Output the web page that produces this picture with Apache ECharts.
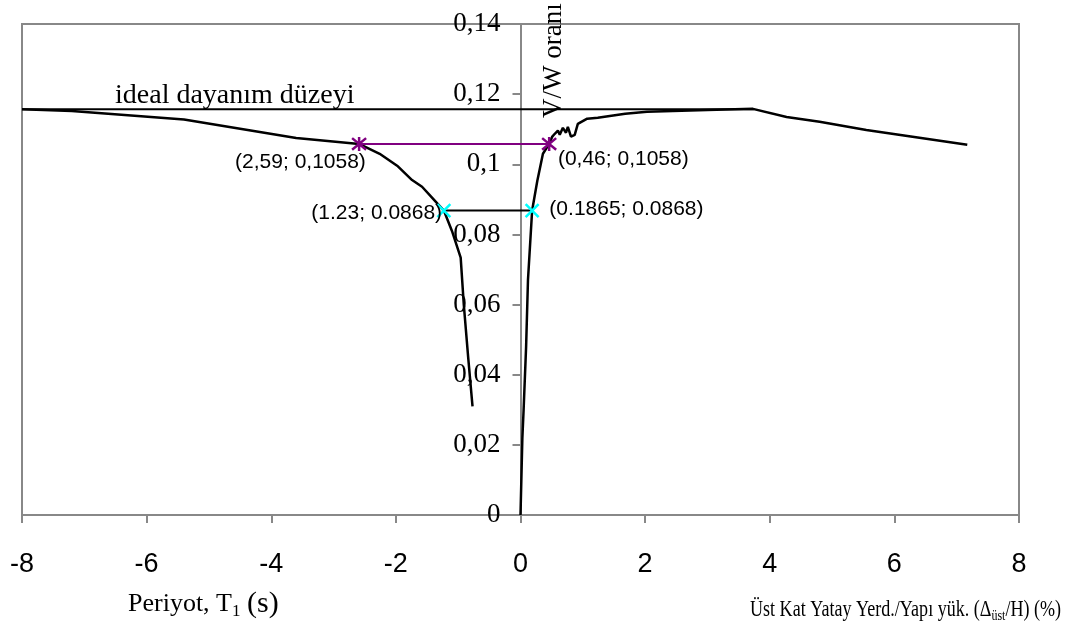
<!DOCTYPE html>
<html>
<head>
<meta charset="utf-8">
<script src="https://cdn.jsdelivr.net/npm/echarts@6/dist/echarts.min.js"></script>
<style>
  html, body { margin: 0; padding: 0; background: #fff; }
  #chart { width: 1066px; height: 638px; }
</style>
</head>
<body>
<div id="chart"></div>
<script>
// sol taraf: periyot egrisi (x negatif)
const periodX = [-8, -7.2, -5.4, -3.6, -2.59, -2.26, -1.98, -1.74, -1.58, -1.42, -1.23, -1.1, -0.96, -0.91, -0.84, -0.77];
const periodY = [0.1157, 0.1152, 0.1128, 0.1075, 0.1058, 0.1030, 0.0996, 0.0955, 0.0936, 0.0905, 0.0868, 0.0810, 0.0734, 0.0600, 0.0450, 0.0310];
// sag taraf: ust kat yatay yerdegistirme egrisi
const driftX = [0, 0.03, 0.05, 0.09, 0.12, 0.1865, 0.27, 0.36, 0.46, 0.51, 0.55, 0.60, 0.63, 0.68, 0.73, 0.76, 0.81, 0.87, 0.92, 1.07, 1.24, 1.68, 2.03, 3.0, 3.73, 4.27, 4.8, 5.55, 7.17];
const driftY = [0, 0.022, 0.030, 0.048, 0.067, 0.0868, 0.0953, 0.1030, 0.1058, 0.1079, 0.1087, 0.1096, 0.1084, 0.1104, 0.1090, 0.1107, 0.1079, 0.1084, 0.1115, 0.1130, 0.1133, 0.1144, 0.1150, 0.1155, 0.1158, 0.1135, 0.1121, 0.1098, 0.1056];
// ideal dayanim duzeyi
const idealX = [-8, 3.75];
const idealY = [0.1157, 0.1157];
// isaretli noktalar
const purpleX = [-2.59, 0.46];
const purpleY = [0.1058, 0.1058];
const purpleLabels = ['(2,59; 0,1058)', '(0,46; 0,1058)'];
const cyanX = [-1.23, 0.1865];
const cyanY = [0.0868, 0.0868];
const cyanLabels = ['(1.23; 0.0868)', '(0.1865; 0.0868)'];
// eksen etiketleri
const xTickLabels = ['-8', '-6', '-4', '-2', '0', '2', '4', '6', '8'];
const yTickLabels = ['0', '0,02', '0,04', '0,06', '0,08', '0,1', '0,12', '0,14'];

const pairs = (xs, ys) => xs.map((x, i) => [x, ys[i]]);
const star = 'path://M0,0L10,10M10,0L0,10M5,-1L5,11';
const cross = 'path://M0,0L10,10M10,0L0,10';
const annFont = { fontFamily: 'Liberation Sans', fontSize: 21, color: '#000' };

const gridLeft = 22, gridRight = 47;
// y ekseni x=0 noktasinda (grafigin ortasi)
const yAxisOffset = -(1066 - gridLeft - gridRight) / 2;

let myChart = echarts.init(document.getElementById('chart'));
let option = {
  animation: false,
  grid: {
    left: gridLeft, right: gridRight, top: 24, bottom: 123,
    containLabel: false, outerBoundsMode: 'none',
    show: true, borderColor: '#888', borderWidth: 2,
  },
  xAxis: {
    type: 'value',
    min: -8, max: 8, interval: 2,
    axisLine: { lineStyle: { color: '#888', width: 2 } },
    axisTick: { length: 8, lineStyle: { color: '#888', width: 2 } },
    splitLine: { show: false },
    axisLabel: {
      margin: 36,
      fontFamily: 'Liberation Sans', fontSize: 27, color: '#000',
      formatter: v => xTickLabels[Math.round((v + 8) / 2)],
    },
  },
  yAxis: {
    type: 'value',
    min: 0, max: 0.14, interval: 0.02,
    offset: yAxisOffset,
    axisLine: { onZero: false, lineStyle: { color: '#888', width: 2 } },
    axisTick: { length: 8, lineStyle: { color: '#888', width: 2 } },
    splitLine: { show: false },
    axisLabel: {
      margin: 20,
      fontFamily: 'Liberation Serif', fontSize: 27, color: '#000',
      formatter: v => yTickLabels[Math.round(v / 0.02)],
    },
  },
  series: [
    {
      name: 'ideal', type: 'line', data: pairs(idealX, idealY),
      symbol: 'none', lineStyle: { color: '#000', width: 2 },
    },
    {
      name: 'periyot', type: 'line', data: pairs(periodX, periodY),
      symbol: 'none', lineStyle: { color: '#000', width: 2.5 },
    },
    {
      name: 'yerdegistirme', type: 'line', data: pairs(driftX, driftY),
      symbol: 'none', lineStyle: { color: '#000', width: 2.5 },
    },
    {
      name: 'mor', type: 'line', z: 5,
      data: purpleX.map((x, i) => ({
        value: [x, purpleY[i]],
        label: i === 0
          ? { position: [15, 27], align: 'right', verticalAlign: 'middle' }
          : { position: [17, 24], align: 'left', verticalAlign: 'middle' },
      })),
      symbol: star, symbolSize: 14,
      lineStyle: { color: '#800080', width: 2 },
      itemStyle: { color: 'rgba(0,0,0,0)', borderColor: '#800080', borderWidth: 2.5 },
      label: { show: true, ...annFont, formatter: p => purpleLabels[p.dataIndex] },
    },
    {
      name: 'camgobegi', type: 'line', z: 5,
      data: cyanX.map((x, i) => ({
        value: [x, cyanY[i]],
        label: i === 0
          ? { position: [6, 10], align: 'right', verticalAlign: 'middle' }
          : { position: [25, 6], align: 'left', verticalAlign: 'middle' },
      })),
      symbol: cross, symbolSize: 13,
      lineStyle: { color: '#000', width: 2 },
      itemStyle: { color: 'rgba(0,0,0,0)', borderColor: '#00ffff', borderWidth: 2.5 },
      label: { show: true, ...annFont, formatter: p => cyanLabels[p.dataIndex] },
    },
  ],
  graphic: [
    {
      type: 'text', left: 115, top: 82,
      style: { text: 'ideal dayanım düzeyi', font: '28px "Liberation Serif"', fill: '#000' },
    },
    {
      type: 'text', x: 554, y: 118, rotation: Math.PI / 2,
      style: {
        text: 'V/W oranı', font: '27px "Liberation Serif"', fill: '#000',
        align: 'left', verticalAlign: 'middle',
      },
    },
    {
      type: 'text', left: 128, top: 588,
      style: {
        text: 'Periyot, T{sub|1} {big|(s)}',
        font: '26px "Liberation Serif"', fill: '#000', lineHeight: 32,
        rich: {
          sub: { fontFamily: 'Liberation Serif', fontSize: 17, lineHeight: 14, verticalAlign: 'bottom' },
          big: { fontFamily: 'Liberation Serif', fontSize: 30, lineHeight: 32 },
        },
      },
    },
    {
      type: 'text', left: 750, top: 596, scaleX: 0.86, scaleY: 1.08,
      style: {
        text: 'Üst Kat Yatay Yerd./Yapı yük. (Δ{sub|üst}/H) (%)',
        font: '21px "Liberation Serif"', fill: '#000', lineHeight: 26,
        rich: {
          sub: { fontFamily: 'Liberation Serif', fontSize: 14, lineHeight: 12, verticalAlign: 'bottom' },
        },
      },
    },
  ],
};
myChart.setOption(option);
</script>
</body>
</html>
